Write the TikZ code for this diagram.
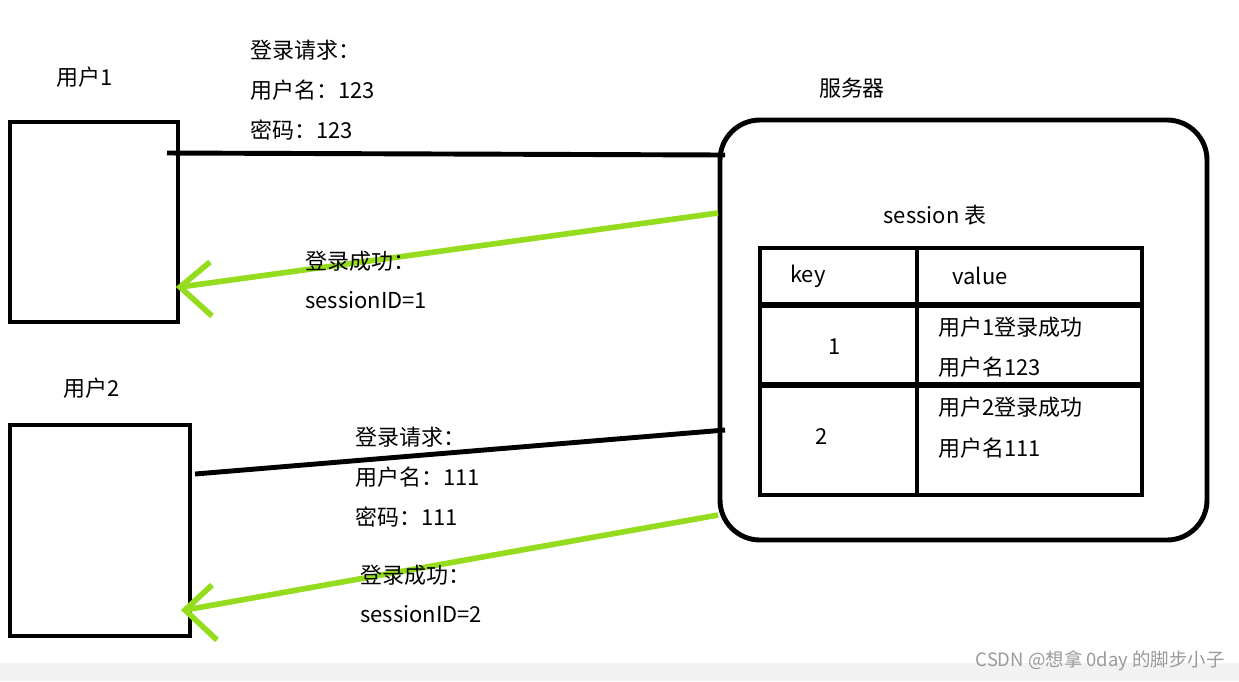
\documentclass[tikz,border=0pt]{standalone}
\usepackage{fontspec}
\setmainfont{Noto Sans CJK SC}
\definecolor{lg}{RGB}{150,220,30}
\begin{document}
\begin{tikzpicture}[x=0.02cm,y=-0.02cm,
  box/.style={draw=black,line width=2.8pt},
  blk/.style={draw=black,line width=2.8pt},
  grn/.style={draw=lg,line width=3.2pt},
  txt/.style={anchor=west,inner sep=0pt,font=\fontsize{12.5}{14}\selectfont},
  ctr/.style={inner sep=0pt,font=\fontsize{12.5}{14}\selectfont}]
\useasboundingbox (0,0) rectangle (1239,681);
\fill[gray!10] (0,663) rectangle (1239,681);
\node[anchor=east,inner sep=0pt,text=gray!80,font=\fontsize{10.5}{12}\selectfont] (wm) at (1225,661) {CSDN @想拿 0day 的脚步小子};
% boxes
\draw[box] (10,122) rectangle (178,322);
\draw[box] (10,425) rectangle (190,636);
\draw[box,rounded corners=0.8cm] (720,120) rectangle (1207,540);
% table
\draw[box] (760,248) rectangle (1142,495);
\draw[box,line width=3.6pt] (760,305) -- (1142,305);
\draw[box,line width=3.6pt] (760,385) -- (1142,385);
\draw[box] (917,248) -- (917,495);
% connectors
\coordinate (a1) at (167,153); \coordinate (b1) at (725,155);
\draw[blk] (a1) -- (b1);
\coordinate (g1s) at (718,213); \coordinate (g1e) at (180,287);
\draw[grn] (g1s) -- (g1e);
\draw[grn] (210,262) -- (g1e) -- (212,316);
\coordinate (a2) at (195,474); \coordinate (b2) at (725,430);
\draw[blk] (a2) -- (b2);
\coordinate (g2s) at (718,515); \coordinate (g2e) at (185,610);
\draw[grn] (g2s) -- (g2e);
\draw[grn] (212,585) -- (g2e) -- (217,640);
% texts
\node[ctr] (t1) at (85,77) {用户1};
\node[ctr] (t2) at (92,388) {用户2};
\node[ctr] (t3) at (852,88) {服务器};
\node[ctr] (t4) at (935,215) {session 表};
\node[ctr] (t5) at (808,276) {key};
\node[ctr] (t6) at (980,276) {value};
\node[ctr] (t7) at (835,347) {1};
\node[ctr] (t8) at (822,437) {2};
\node[txt] (t9) at (938,327) {用户1登录成功};
\node[txt] (t10) at (938,367) {用户名123};
\node[txt] (t11) at (938,407) {用户2登录成功};
\node[txt] (t12) at (938,448) {用户名111};
\node[txt] (r1) at (250,50) {登录请求：};
\node[txt] (r2) at (250,90) {用户名：123};
\node[txt] (r3) at (250,130) {密码：123};
\node[txt] (s1) at (305,261) {登录成功：};
\node[txt] (s2) at (305,300) {sessionID=1};
\node[txt] (r4) at (355,437) {登录请求：};
\node[txt] (r5) at (355,477) {用户名：111};
\node[txt] (r6) at (355,517) {密码：111};
\node[txt] (s3) at (360,575) {登录成功：};
\node[txt] (s4) at (360,614) {sessionID=2};
\end{tikzpicture}
\end{document}
